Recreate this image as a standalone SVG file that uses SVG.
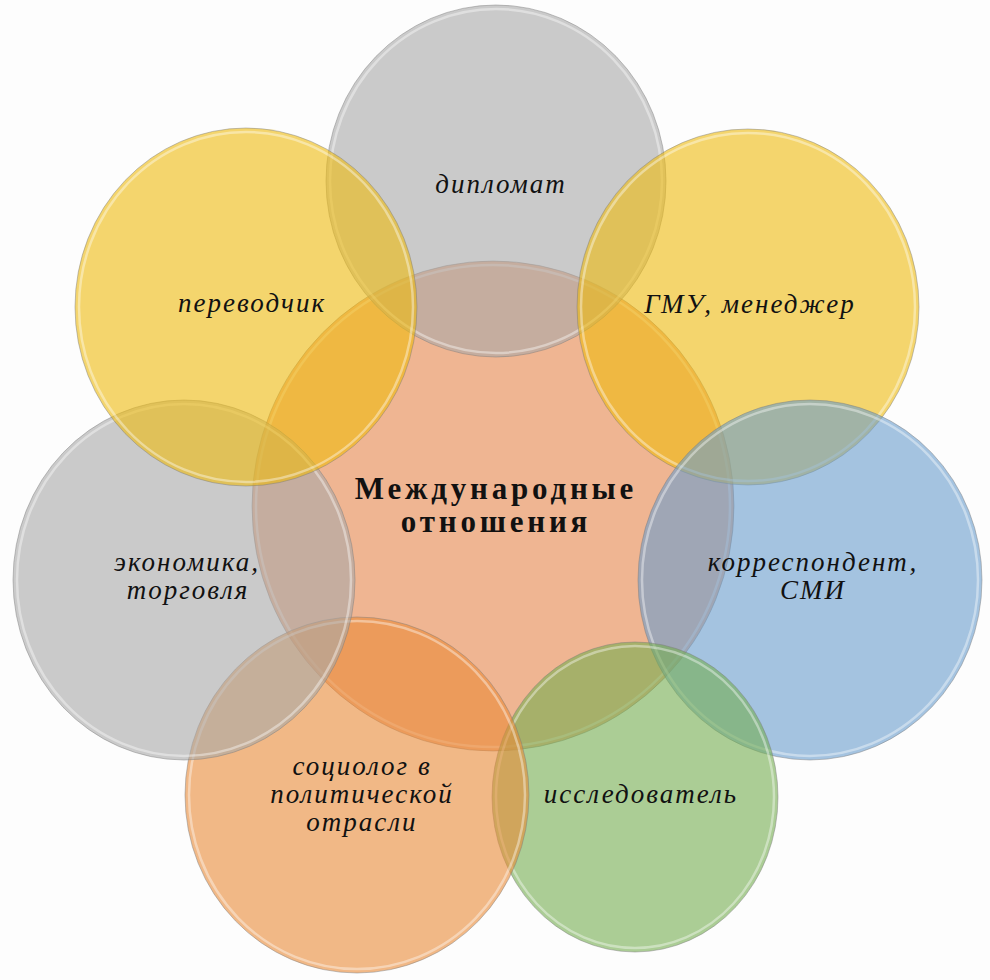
<svg xmlns="http://www.w3.org/2000/svg" width="990" height="980" viewBox="0 0 990 980">
<defs>
<style>
.bg{fill:#fdfdfd}
.c{stroke:#7a7a7a;stroke-width:1;stroke-opacity:.45}
.o{fill-opacity:.6}
.rim{fill:none;stroke:#ffffff;stroke-width:2.5;stroke-opacity:.4}
.t{font-family:"Liberation Serif","DejaVu Serif",serif;font-style:italic;font-size:27px;letter-spacing:2px;fill:#111;text-anchor:middle}
.h{font-family:"Liberation Serif","DejaVu Serif",serif;font-weight:bold;font-size:31px;letter-spacing:3.8px;fill:#111;text-anchor:middle}
</style>
</defs>
<rect class="bg" x="0" y="0" width="990" height="980"/>
<g id="connectors"></g>
<g id="center">
<ellipse class="c" cx="493" cy="506" rx="241" ry="245" fill="#efb592"/>
<ellipse class="rim" cx="493" cy="506" rx="237" ry="241"/>
</g>
<g id="diplomat">
<ellipse class="c o" cx="496" cy="181" rx="170" ry="176" fill="#a8a8a8"/>
<ellipse class="rim" cx="496" cy="181" rx="166" ry="172"/>
<text class="t" x="501" y="193">дипломат</text>
</g>
<g id="manager">
<ellipse class="c o" cx="748" cy="307" rx="171" ry="178" fill="#eebb0d"/>
<ellipse class="rim" cx="748" cy="307" rx="167" ry="174"/>
<text class="t" x="750" y="313">ГМУ, менеджер</text>
</g>
<g id="correspondent">
<ellipse class="c o" cx="810" cy="580" rx="172" ry="180" fill="#699dcd"/>
<ellipse class="rim" cx="810" cy="580" rx="168" ry="176"/>
<text class="t" y="571"><tspan x="813">корреспондент,</tspan><tspan x="813" dy="28">СМИ</tspan></text>
</g>
<g id="researcher">
<ellipse class="c o" cx="635" cy="797" rx="143" ry="155" fill="#75ad50"/>
<ellipse class="rim" cx="635" cy="797" rx="139" ry="151"/>
<text class="t" x="641" y="803">исследователь</text>
</g>
<g id="sociologist">
<ellipse class="c o" cx="357" cy="795" rx="172" ry="178" fill="#e98a37"/>
<ellipse class="rim" cx="357" cy="795" rx="168" ry="174"/>
<text class="t" y="775"><tspan x="362">социолог в</tspan><tspan x="362" dy="28">политической</tspan><tspan x="362" dy="28">отрасли</tspan></text>
</g>
<g id="economics">
<ellipse class="c o" cx="184" cy="580" rx="171" ry="180" fill="#a8a8a8"/>
<ellipse class="rim" cx="184" cy="580" rx="167" ry="176"/>
<text class="t" y="571"><tspan x="187">экономика,</tspan><tspan x="188" dy="28">торговля</tspan></text>
</g>
<g id="translator">
<ellipse class="c o" cx="246" cy="307" rx="171" ry="179" fill="#eebb0d"/>
<ellipse class="rim" cx="246" cy="307" rx="167" ry="175"/>
<text class="t" x="252" y="312">переводчик</text>
</g>
<g id="title">
<text class="h" y="499"><tspan x="496">Международные</tspan><tspan x="496" dy="33">отношения</tspan></text>
</g>
</svg>
